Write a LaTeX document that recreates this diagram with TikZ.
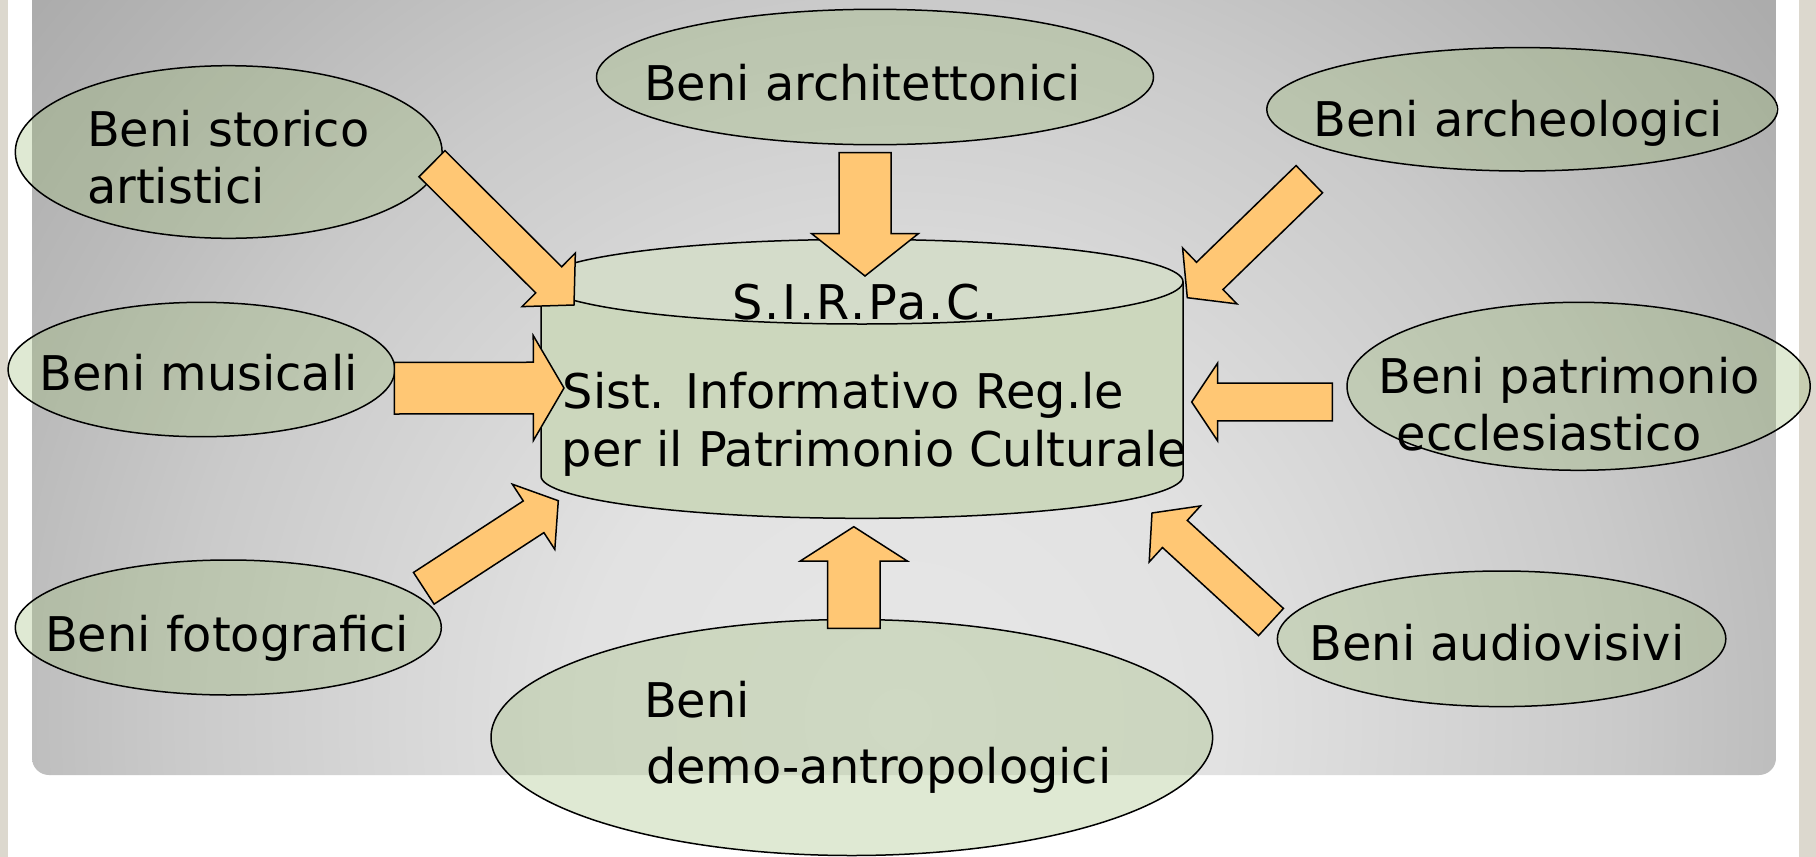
\documentclass[tikz,border=0pt]{standalone}
\usepackage{fontspec}
\setmainfont{DejaVu Sans}
\usetikzlibrary{calc,shapes.geometric}
\definecolor{arrowfill}{HTML}{FFC774}
\definecolor{ellfill}{HTML}{98B970}
\definecolor{cylbody}{HTML}{CCD7BD}
\definecolor{cyltop}{HTML}{D4DCCA}
\definecolor{stripcol}{HTML}{DCD8CE}
\definecolor{pA}{HTML}{E7E7E7}
\definecolor{pB}{HTML}{E2E2E2}
\definecolor{pC}{HTML}{CACACA}
\definecolor{pD}{HTML}{BABABA}
\definecolor{pE}{HTML}{ACACAC}
\pgfdeclareradialshading{panelshade}{\pgfpoint{0bp}{0bp}}{color(0bp)=(pA); color(8bp)=(pB); color(18bp)=(pC); color(23bp)=(pD); color(28bp)=(pE); color(50bp)=(pE)}
\tikzset{
  ell/.style={ellipse, draw=black, line width=1.5pt, fill=ellfill, fill opacity=0.3, inner sep=0pt},
  blk/.style={draw=black, line width=1.5pt, fill=arrowfill, line join=miter},
  lbl/.style={font=\fontsize{47.8}{57}\selectfont, anchor=base west, inner sep=0pt, text=black},
  cylline/.style={draw=black, line width=1.5pt}
}
% #1 tail coordinate, #2 tip coordinate, #3 half shaft width, #4 half head width, #5 head length
\newcommand\blockarrow[5]{%
  \draw[blk] let \p1=(#1), \p2=(#2), \n1={atan2(\y2-\y1,\x2-\x1)} in
    ($(\p1)+(\n1-90:#3pt)$) -- ($(\p2)+(\n1+180:#5pt)+(\n1-90:#3pt)$) --
    ($(\p2)+(\n1+180:#5pt)+(\n1-90:#4pt)$) -- (\p2) --
    ($(\p2)+(\n1+180:#5pt)+(\n1+90:#4pt)$) -- ($(\p2)+(\n1+180:#5pt)+(\n1+90:#3pt)$) --
    ($(\p1)+(\n1+90:#3pt)$) -- cycle;}
\begin{document}
\begin{tikzpicture}[x=1pt,y=-1pt]
\useasboundingbox (0,0) rectangle (1816,857);
\fill[white] (0,0) rectangle (1816,857);
\fill[stripcol] (0,0) rectangle (8,857);
\fill[stripcol] (1799,0) rectangle (1816,857);
\begin{scope}
  \clip[rounded corners=17pt] (32,-40) rectangle (1776,775);
  \shade[shading=panelshade] (-100,-280) rectangle (1900,1720);
\end{scope}
% cylinder
\fill[cylbody] (541,281.7) -- (541,476) arc[start angle=180,end angle=360,x radius=321pt,y radius=42.3pt] -- (1183,281.7) -- cycle;
\draw[cylline] (541,281.7) -- (541,476) arc[start angle=180,end angle=360,x radius=321pt,y radius=42.3pt] -- (1183,281.7);
\draw[cylline, fill=cyltop] (862,281.7) ellipse [x radius=321pt, y radius=42.3pt];
\coordinate (cyl) at (862,400);
% ellipses
\node[ell, minimum width=426.8pt, minimum height=172.6pt] (storico) at (228.7,152) {};
\node[ell, minimum width=557pt, minimum height=135.4pt] (archit) at (875,77) {};
\node[ell, minimum width=510.8pt, minimum height=123.4pt] (archeo) at (1522.2,109.3) {};
\node[ell, minimum width=386.8pt, minimum height=134.4pt] (musica) at (201.5,369.5) {};
\node[ell, minimum width=463.2pt, minimum height=168pt] (patrim) at (1578.6,386.3) {};
\node[ell, minimum width=426pt, minimum height=135pt] (fotog) at (228.3,627.5) {};
\node[ell, minimum width=721.6pt, minimum height=236pt] (demo) at (851.8,737.5) {};
\node[ell, minimum width=448.4pt, minimum height=135.6pt] (audio) at (1501.6,638.8) {};
% arrow ends
\coordinate (a1s) at (432,163.7);   \coordinate (a1e) at (574,305);
\coordinate (a2s) at (865,152.7);   \coordinate (a2e) at (865,276);
\coordinate (a3s) at (1309.3,179.2); \coordinate (a3e) at (1187.3,297.7);
\coordinate (a4s) at (394.3,388.2); \coordinate (a4e) at (564,388);
\coordinate (a5s) at (1332.3,402);  \coordinate (a5e) at (1191.7,402);
\coordinate (a6s) at (423.8,588.3); \coordinate (a6e) at (558.3,500.7);
\coordinate (a7s) at (853.8,628.3); \coordinate (a7e) at (853.8,526.7);
\coordinate (a8s) at (1271,622);    \coordinate (a8e) at (1152,513);
\blockarrow{a1s}{a1e}{18.4}{37.8}{35.7}
\blockarrow{a2s}{a2e}{26}{53.3}{42.3}
\blockarrow{a3s}{a3e}{19}{39}{31.3}
\blockarrow{a4s}{a4e}{25.8}{52.5}{30.7}
\blockarrow{a5s}{a5e}{18.8}{39}{26}
\blockarrow{a6s}{a6e}{18.9}{38.9}{29.5}
\blockarrow{a7s}{a7e}{26.2}{53.5}{34.3}
\blockarrow{a8s}{a8e}{18.4}{38}{31}
% texts
\node[lbl] (t1a) at (87,146.7) {Beni storico};
\node[lbl] (t1b) at (87,203.3) {artistici};
\node[lbl] (t2) at (644,100.8) {Beni architettonici};
\node[lbl] (t3) at (1313,136.7) {Beni archeologici};
\node[lbl] (t4) at (39.5,390.3) {Beni musicali};
\node[lbl] (t5a) at (1378.5,393.8) {Beni patrimonio};
\node[lbl] (t5b) at (1396.5,450.5) {ecclesiastico};
\node[lbl] (t6) at (45,651.7) {Beni fotografici};
\node[lbl] (t7a) at (644,717) {Beni};
\node[lbl] (t7b) at (646,783) {demo-antropologici};
\node[lbl] (t8) at (1309.5,660.7) {Beni audiovisivi};
\node[lbl] (c1) at (732,319) {\addfontfeatures{LetterSpace=5}S.I.R.Pa.C.};
\node[lbl] (c2) at (562.5,408.3) {Sist. Informativo Reg.le};
\node[lbl] (c3) at (561.5,466.7) {per il Patrimonio Culturale};
\end{tikzpicture}
\end{document}
